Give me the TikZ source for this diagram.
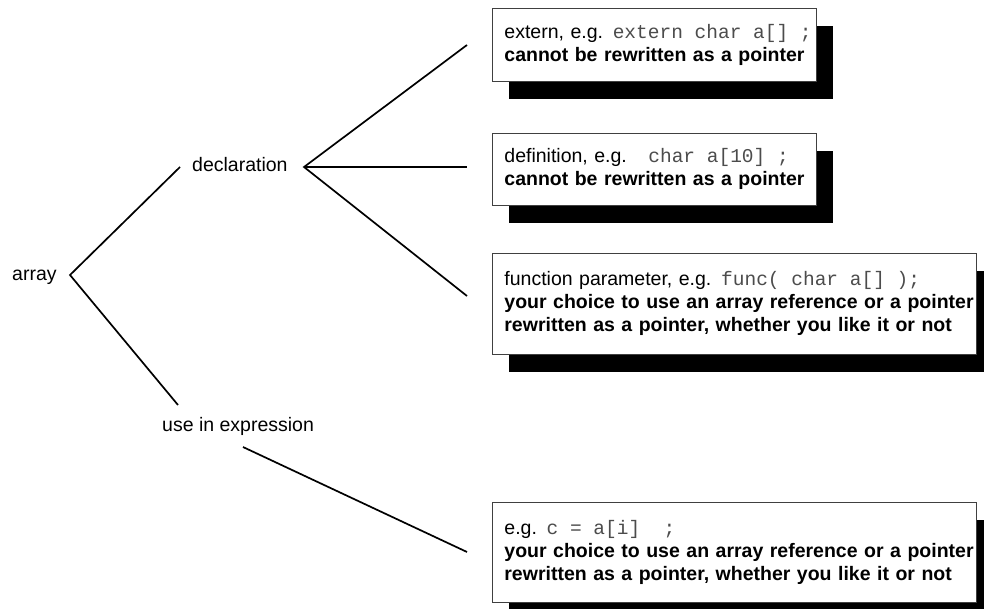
\documentclass[tikz,border=0pt]{standalone}
\usepackage{fontspec}
\setmainfont{Liberation Sans}
\setmonofont{Liberation Mono}
\usetikzlibrary{shadows}
\begin{document}
\begin{tikzpicture}[x=1pt,y=-1pt,
  font=\fontsize{19.5}{23}\selectfont,
  lbl/.style={inner sep=0pt, anchor=base west},
  infobox/.style={draw=black!75, line width=0.8pt, fill=white, anchor=north west,
    align=left, inner xsep=12pt, inner ysep=0pt,
    drop shadow={shadow xshift=17pt, shadow yshift=-17.5pt, fill=black, opacity=1}},
  conn/.style={line width=1.7pt}]
\newcommand{\cd}[1]{{\ttfamily\color{black!70}#1}}
\newcommand{\csp}{\hphantom{x}}
\newcommand{\boxline}[1]{\mbox{#1}}
\useasboundingbox (0,0) rectangle (984,609);
\fill[white] (0,0) rectangle (984,609);

% labels
\node[lbl] (array) at (12,280) {array};
\node[lbl] (decl) at (192,172) {declaration};
\node[lbl] (use) at (162,431) {use in expression};

% boxes
\node[infobox, text width=300pt, minimum height=73pt] (b1) at (492,8)
  {\boxline{extern, e.g. \cd{extern\csp char\csp a[]\csp;}}\\\boxline{\textbf{cannot be rewritten as a pointer}}};
\node[infobox, text width=300pt, minimum height=72pt] (b2) at (492,133)
  {\boxline{definition, e.g. \cd{\csp char\csp a[10]\csp;}}\\\boxline{\textbf{cannot be rewritten as a pointer}}};
\node[infobox, text width=460pt, minimum height=101pt] (b3) at (492,253)
  {\boxline{function parameter, e.g. \cd{func(\csp char\csp a[]\csp );}}\\\boxline{\textbf{your choice to use an array reference or a pointer}}\\\boxline{\textbf{rewritten as a pointer, whether you like it or not}}};
\node[infobox, text width=460pt, minimum height=100pt] (b4) at (492,502)
  {\boxline{e.g. \cd{c\csp=\csp a[i]\csp\csp;}}\\\boxline{\textbf{your choice to use an array reference or a pointer}}\\\boxline{\textbf{rewritten as a pointer, whether you like it or not}}};

% connector points
\coordinate (av) at (70,275);
\coordinate (dl) at (180,167);
\coordinate (ul) at (178,405);
\coordinate (dv) at (304,167);
\coordinate (e1) at (467,45);
\coordinate (e2) at (467,167);
\coordinate (e3) at (467,296);
\coordinate (ur) at (243,447);
\coordinate (e4) at (467,552);

\draw[conn] (dl) -- (av) -- (ul);
\draw[conn] (e1) -- (dv) -- (e3);
\draw[conn] (dv) -- (e2);
\draw[conn] (ur) -- (e4);
\end{tikzpicture}
\end{document}
